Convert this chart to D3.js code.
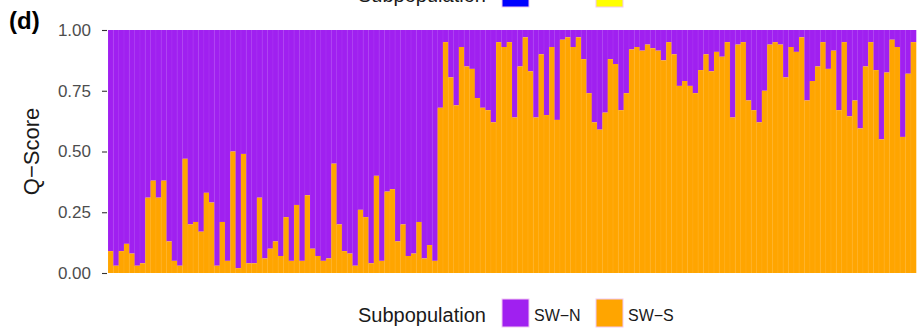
<!DOCTYPE html>
<html>
<head>
<meta charset="utf-8">
<script src="https://cdn.jsdelivr.net/npm/d3@7"></script>
<style>
  body { margin: 0; background: #fff; }
  text { font-family: "Liberation Sans", Arial, sans-serif; }
</style>
</head>
<body>
<script>
// Q-score of SW-S (orange) per individual, SW-N is the rest up to 1
var swS = [
  0.09, 0.03, 0.09, 0.12, 0.08, 0.03, 0.04, 0.31, 0.38, 0.31,
  0.38, 0.13, 0.05, 0.03, 0.47, 0.20, 0.21, 0.17, 0.33, 0.29,
  0.03, 0.21, 0.05, 0.50, 0.02, 0.49, 0.04, 0.04, 0.31, 0.06,
  0.10, 0.13, 0.07, 0.23, 0.05, 0.28, 0.05, 0.32, 0.10, 0.07,
  0.05, 0.06, 0.45, 0.20, 0.09, 0.08, 0.03, 0.26, 0.23, 0.04,
  0.40, 0.05, 0.335, 0.345, 0.13, 0.20, 0.07, 0.08, 0.21, 0.06,
  0.115, 0.05,
  0.68, 0.95, 0.805, 0.69, 0.93, 0.85, 0.84, 0.72, 0.68, 0.67,
  0.62, 0.95, 0.93, 0.95, 0.64, 0.85, 0.97, 0.83, 0.64, 0.90,
  0.65, 0.93, 0.63, 0.96, 0.97, 0.93, 0.97, 0.88, 0.74, 0.62,
  0.59, 0.66, 0.88, 0.86, 0.67, 0.74, 0.92, 0.93, 0.915, 0.94,
  0.925, 0.915, 0.875, 0.95, 0.90, 0.77, 0.79, 0.77, 0.74, 0.835,
  0.90, 0.83, 0.91, 0.89, 0.95, 0.64, 0.94, 0.95, 0.71, 0.67,
  0.62, 0.75, 0.94, 0.95, 0.94, 0.805, 0.93, 0.91, 0.97, 0.71,
  0.79, 0.85, 0.95, 0.84, 0.915, 0.67, 0.95, 0.645, 0.71, 0.595,
  0.85, 0.95, 0.835, 0.55, 0.825, 0.96, 0.93, 0.56, 0.82, 0.95
];
var yTicks = [0, 0.25, 0.5, 0.75, 1];
var groups = ["SW\u2212N", "SW\u2212S"];
var colors = ["#A020F0", "#FFA500"];
// legend of the panel above, cut off at the top of the picture
var prevGroups = ["", ""];
var prevColors = ["#0000FF", "#FFFF00"];

var W = 917, H = 335;
var margin = {top: 30, right: 1, bottom: 62, left: 108};

var svg = d3.select("body").append("svg")
    .attr("width", W)
    .attr("height", H);

var xScale = d3.scaleBand()
    .domain(d3.range(swS.length))
    .range([margin.left, W - margin.right])
    .padding(0);

var yScale = d3.scaleLinear()
    .domain([0, 1])
    .range([H - margin.bottom, margin.top]);

// bars: purple on top, orange underneath
var bars = svg.append("g").selectAll("g")
    .data(swS)
  .enter().append("g");

bars.append("rect")
    .attr("x", function(d, i) { return xScale(i); })
    .attr("width", xScale.bandwidth() + 0.3)
    .attr("y", yScale(1))
    .attr("height", function(d) { return yScale(d) - yScale(1); })
    .style("fill", colors[0]);

bars.append("rect")
    .attr("x", function(d, i) { return xScale(i); })
    .attr("width", xScale.bandwidth() + 0.3)
    .attr("y", function(d) { return yScale(d); })
    .attr("height", function(d) { return yScale(0) - yScale(d); })
    .style("fill", colors[1]);

// faint separators between individuals
bars.append("line")
    .attr("x1", function(d, i) { return xScale(i); })
    .attr("x2", function(d, i) { return xScale(i); })
    .attr("y1", yScale(1))
    .attr("y2", yScale(0))
    .style("stroke", "#fff")
    .style("stroke-opacity", 0.12)
    .style("stroke-width", 0.6);

// y axis
var yAxis = svg.append("g")
    .attr("transform", "translate(" + (margin.left - 1) + ",0)")
    .call(d3.axisLeft(yScale).tickValues(yTicks).tickFormat(d3.format(".2f")).tickSize(5).tickPadding(11));
yAxis.select(".domain").remove();
yAxis.selectAll("line").style("stroke", "#333").style("stroke-width", 1.1);
yAxis.selectAll("text")
    .style("font-size", "17px")
    .style("fill", "#4d4d4d");

svg.append("text")
    .attr("text-anchor", "middle")
    .attr("transform", "translate(39," + ((yScale(0) + yScale(1)) / 2) + ")rotate(-90)")
    .style("font-size", "22px")
    .style("fill", "#1a1a1a")
    .text("Q\u2212Score");

svg.append("text")
    .attr("x", 9)
    .attr("y", 29)
    .style("font-size", "24px")
    .style("font-weight", "bold")
    .text("(d)");

// legends
function legend(y, cols, labels) {
  var g = svg.append("g");
  g.append("text")
      .attr("x", 358)
      .attr("y", y)
      .style("font-size", "20px")
      .style("fill", "#1a1a1a")
      .text("Subpopulation");
  var keyX = [502, 596];
  for (var i = 0; i < cols.length; i++) {
    g.append("rect")
        .attr("x", keyX[i])
        .attr("y", y - 23)
        .attr("width", 27)
        .attr("height", 28)
        .style("fill", cols[i])
        .style("stroke", "#f2c8f2")
        .style("stroke-width", 1);
    g.append("text")
        .attr("x", keyX[i] + 32)
        .attr("y", y - 1)
        .style("font-size", "16px")
        .style("fill", "#1a1a1a")
        .text(labels[i]);
  }
}
legend(322, colors, groups);
legend(2, prevColors, prevGroups);
</script>
</body>
</html>
